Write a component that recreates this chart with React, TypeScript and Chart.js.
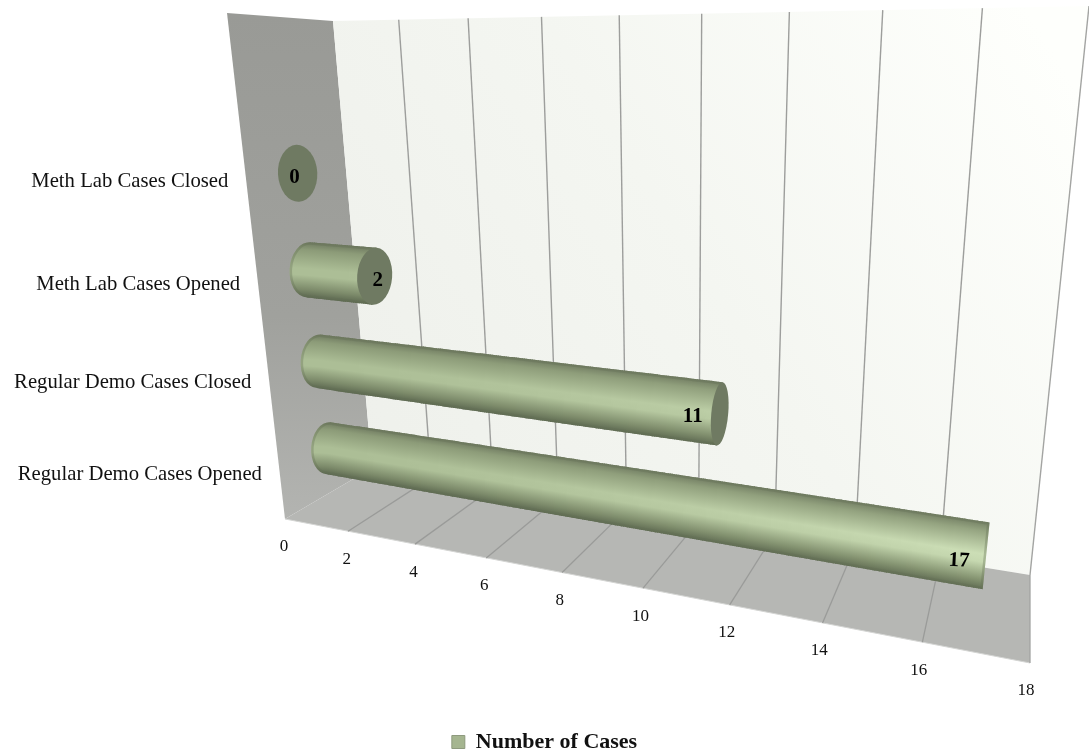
import React, { useEffect, useRef } from "react";
import { Chart, registerables } from "chart.js";

Chart.register(...registerables);

const categories = [
  "Meth Lab Cases Closed",
  "Meth Lab Cases Opened",
  "Regular Demo Cases Closed",
  "Regular Demo Cases Opened",
];
const numberOfCases = [0, 2, 11, 17];
const seriesName = "Number of Cases";
const xMin = 0;
const xMax = 18;
const xStep = 2;

type P = [number, number];

// Perspective: maps the unit square onto a quad (p0=0,0 p1=1,0 p2=1,1 p3=0,1)
function homography(p0: P, p1: P, p2: P, p3: P) {
  const dx1 = p1[0] - p2[0], dx2 = p3[0] - p2[0], sx = p0[0] - p1[0] + p2[0] - p3[0];
  const dy1 = p1[1] - p2[1], dy2 = p3[1] - p2[1], sy = p0[1] - p1[1] + p2[1] - p3[1];
  const den = dx1 * dy2 - dx2 * dy1;
  const g = (sx * dy2 - dx2 * sy) / den;
  const h = (dx1 * sy - sx * dy1) / den;
  const a = p1[0] - p0[0] + g * p1[0], b = p3[0] - p0[0] + h * p3[0], c = p0[0];
  const d = p1[1] - p0[1] + g * p1[1], e = p3[1] - p0[1] + h * p3[1], f = p0[1];
  return (u: number, v: number): P => {
    const w = g * u + h * v + 1;
    return [(a * u + b * v + c) / w, (d * u + e * v + f) / w];
  };
}

const backTL: P = [333, 21], backTR: P = [1089, 6], backBR: P = [1030, 575], backBL: P = [372, 468];
const leftTL: P = [227, 13], leftBL: P = [285, 519];
const frontBR: P = [1030, 663];

const backWall = homography(backTL, backTR, backBR, backBL);
const floorPlane = homography(leftBL, frontBR, backBR, backBL);
// plane through the axes of the cylinders: u = value fraction, v = category fraction
const rowPlane = homography([292, 123], [1078, 154], [1030, 615], [333, 490]);

const mix = (a: number[], b: number[], k: number) =>
  `rgb(${a.map((x, i) => Math.round(x + (b[i] - x) * k)).join(",")})`;

function poly(ctx: CanvasRenderingContext2D, pts: P[]) {
  ctx.beginPath();
  pts.forEach((p, i) => (i ? ctx.lineTo(p[0], p[1]) : ctx.moveTo(p[0], p[1])));
  ctx.closePath();
}

function line(ctx: CanvasRenderingContext2D, a: P, b: P, color: string, w: number) {
  ctx.strokeStyle = color;
  ctx.lineWidth = w;
  ctx.beginPath();
  ctx.moveTo(a[0], a[1]);
  ctx.lineTo(b[0], b[1]);
  ctx.stroke();
}

const SERIF = '"Liberation Serif", serif';

const stage3d = {
  id: "stage3d",
  beforeDatasetsDraw(chart: any) {
    const { ctx, chartArea: area, scales } = chart;
    const xs = scales.x;
    const ys = scales.y;
    const tOf = (v: number) => (xs.getPixelForValue(v) - area.left) / area.width;
    ctx.save();

    // left wall
    const lg = ctx.createLinearGradient(0, 13, 0, 519);
    lg.addColorStop(0, "#999a96");
    lg.addColorStop(0.6, "#a0a19d");
    lg.addColorStop(1, "#b3b4b1");
    ctx.fillStyle = lg;
    poly(ctx, [leftTL, backTL, backBL, leftBL]);
    ctx.fill();

    // back wall
    const bg = ctx.createLinearGradient(340, 470, 1040, 30);
    bg.addColorStop(0, "#eef0eb");
    bg.addColorStop(0.5, "#f4f6f1");
    bg.addColorStop(1, "#feFffc");
    ctx.fillStyle = bg;
    poly(ctx, [backTL, backTR, backBR, backBL]);
    ctx.fill();

    // floor
    ctx.fillStyle = "#b6b7b4";
    poly(ctx, [leftBL, frontBR, backBR, backBL]);
    ctx.fill();
    line(ctx, leftBL, frontBR, "#d4d5d3", 1);

    // grid lines, taken from the value scale
    xs.getTicks().forEach((tick: any) => {
      const t = tOf(tick.value);
      const top = backWall(t, 0);
      const bot = backWall(t, 1);
      const front = floorPlane(t, 0);
      if (t > 0) {
        line(ctx, top, bot, t === 1 ? "#a3a4a2" : "#9d9e9c", 1.4);
        line(ctx, bot, front, t === 1 ? "#a3a4a2" : "#9a9b99", 1.3);
      }
      ctx.fillStyle = "#111";
      ctx.font = `17px ${SERIF}`;
      ctx.textAlign = "center";
      ctx.textBaseline = "middle";
      ctx.fillText(String(tick.value), front[0] - 1 - 3 * t, front[1] + 28);
    });

    // category labels
    ctx.fillStyle = "#111";
    ctx.font = `20.7px ${SERIF}`;
    ctx.textAlign = "right";
    ctx.textBaseline = "middle";
    ys.getLabels().forEach((label: string, i: number) => {
      const s = (ys.getPixelForValue(i) - area.top) / area.height;
      const u = s - 0.125;
      const y = 182 + 422.7 * u - 42.7 * u * u;
      const edge = leftTL[0] + ((y - leftTL[1]) / (leftBL[1] - leftTL[1])) * (leftBL[0] - leftTL[0]);
      ctx.fillText(label, edge - 18, y);
    });
    ctx.restore();
  },
  beforeDatasetDraw(chart: any, args: any) {
    const { ctx, chartArea: area } = chart;
    const data = chart.data.datasets[args.index].data as number[];
    args.meta.data.forEach((el: any, i: number) => {
      const t1 = (el.x - area.left) / area.width;
      const s = (el.y - area.top) / area.height;
      drawCylinder(ctx, t1, s, data[i]);
    });
    return false; // cylinders replace the flat bars
  },
};

function drawCylinder(ctx: CanvasRenderingContext2D, t1: number, s: number, value: number) {
  const center = (t: number) => rowPlane(t, s);
  const radius = (t: number) => 26 + 8 * t + 3.3 * (0.875 - s);
  const tilt = (t: number) => (((value === 0 ? -3 : 4 + 2 * t) * Math.PI) / 180);
  const semiMinor = (t: number) => Math.max(0.5, radius(t) * 0.69 * ((985 - center(t)[0]) / 687));
  const edge = (t: number, sign: number): P => {
    const c = center(t), r = radius(t), a = tilt(t);
    return [c[0] + sign * r * Math.sin(a), c[1] - sign * r * Math.cos(a)];
  };
  ctx.save();
  if (t1 > 0) {
    const c0 = center(0);
    const c1 = center(t1);
    const b0 = semiMinor(0);
    ctx.save();
    // one slice about every two pixels along the bar
    const N = Math.max(4, Math.ceil((c1[0] - c0[0]) / 2));
    const outline = new Path2D();
    outline.ellipse(c0[0], c0[1], b0, radius(0), tilt(0), Math.PI / 2, (3 * Math.PI) / 2);
    for (let k = 1; k <= N; k++) outline.lineTo(...edge((t1 * k) / N, 1));
    for (let k = N; k >= 0; k--) outline.lineTo(...edge((t1 * k) / N, -1));
    outline.closePath();
    ctx.clip(outline);
    const dark0 = [111, 122, 96], dark1 = [92, 104, 80];
    const shoulder = [140, 155, 120], lowShoulder = [124, 138, 106];
    const midA = [172, 190, 150], midB = [208, 226, 186];
    for (let k = -1; k < N; k++) {
      const ta = k < 0 ? 0 : (t1 * k) / N;
      const tb = k < 0 ? 0 : (t1 * (k + 1)) / N;
      const tm = (ta + tb) / 2;
      const top = edge(tm, 1), bot = edge(tm, -1);
      const grad = ctx.createLinearGradient(top[0], top[1], bot[0], bot[1]);
      const glow = Math.pow(tm, 1.6);
      grad.addColorStop(0, mix(dark0, [118, 130, 102], glow));
      grad.addColorStop(0.14, mix(shoulder, [150, 165, 130], glow));
      grad.addColorStop(0.48, mix(midA, midB, glow));
      grad.addColorStop(0.6, mix(midA, midB, glow * 0.8));
      grad.addColorStop(0.86, mix(lowShoulder, [135, 150, 115], glow));
      grad.addColorStop(1, mix(dark1, [100, 112, 86], glow));
      ctx.fillStyle = grad;
      if (k < 0) {
        const off = b0 + 4;
        poly(ctx, [
          [top[0] - off, top[1] - off * 0.14],
          [top[0] + 1, top[1]],
          [bot[0] + 1, bot[1]],
          [bot[0] - off, bot[1] - off * 0.14],
        ]);
      } else {
        // widened a little so neighbouring slices leave no seams
        const a0 = edge(ta, 1), a1 = edge(tb, 1), a2 = edge(tb, -1), a3 = edge(ta, -1);
        poly(ctx, [
          [a0[0], a0[1] - 3],
          [a1[0] + 1, a1[1] - 3],
          [a2[0] + 1, a2[1] + 3],
          [a3[0], a3[1] + 3],
        ]);
      }
      ctx.fill();
    }
    ctx.lineWidth = 5;
    ctx.strokeStyle = "rgba(100,112,85,0.35)";
    ctx.stroke(outline);
    ctx.restore();
  }
  // end cap
  const c = center(t1);
  const a = semiMinor(t1);
  if (a > 1.5) {
    ctx.beginPath();
    ctx.ellipse(c[0], c[1], a, radius(t1), tilt(t1), 0, Math.PI * 2);
    ctx.fillStyle = "#6f7a62";
    ctx.fill();
  }
  // value label
  const big = value > 2;
  const lx = big ? c[0] - 27 : c[0] + (value === 0 ? -3 : 3);
  const ly = c[1] + (big ? 3 : 4) + (value > 11 ? 2 : 0);
  ctx.translate(lx, ly);
  if (value > 11) ctx.rotate((3 * Math.PI) / 180);
  ctx.fillStyle = "#000";
  ctx.font = `bold 21px ${SERIF}`;
  ctx.textAlign = "center";
  ctx.textBaseline = "middle";
  ctx.fillText(String(value), 0, 0);
  ctx.restore();
}

export default function App() {
  const ref = useRef<HTMLCanvasElement | null>(null);
  useEffect(() => {
    if (!ref.current) return;
    const chart = new Chart(ref.current, {
      type: "bar",
      data: {
        labels: categories,
        datasets: [
          {
            label: seriesName,
            data: numberOfCases,
            backgroundColor: "#a5b590",
            borderColor: "#8e9a7e",
            borderWidth: 1,
          },
        ],
      },
      options: {
        indexAxis: "y",
        responsive: false,
        animation: false,
        layout: { padding: { bottom: -8 } },
        scales: {
          x: { display: false, min: xMin, max: xMax, ticks: { stepSize: xStep } },
          y: { display: false },
        },
        plugins: {
          tooltip: { enabled: false },
          legend: {
            position: "bottom",
            onClick: () => {},
            labels: {
              boxWidth: 13,
              boxHeight: 13,
              padding: 0,
              color: "#111",
              font: { family: SERIF, size: 22, weight: "bold" },
            },
          },
        },
      },
      plugins: [stage3d as any],
    });
    return () => chart.destroy();
  }, []);
  return (
    <div style={{ position: "fixed", left: 0, top: 0, width: 1089, height: 755, background: "#fff" }}>
      <canvas ref={ref} width={1089} height={755} style={{ display: "block" }} />
    </div>
  );
}
